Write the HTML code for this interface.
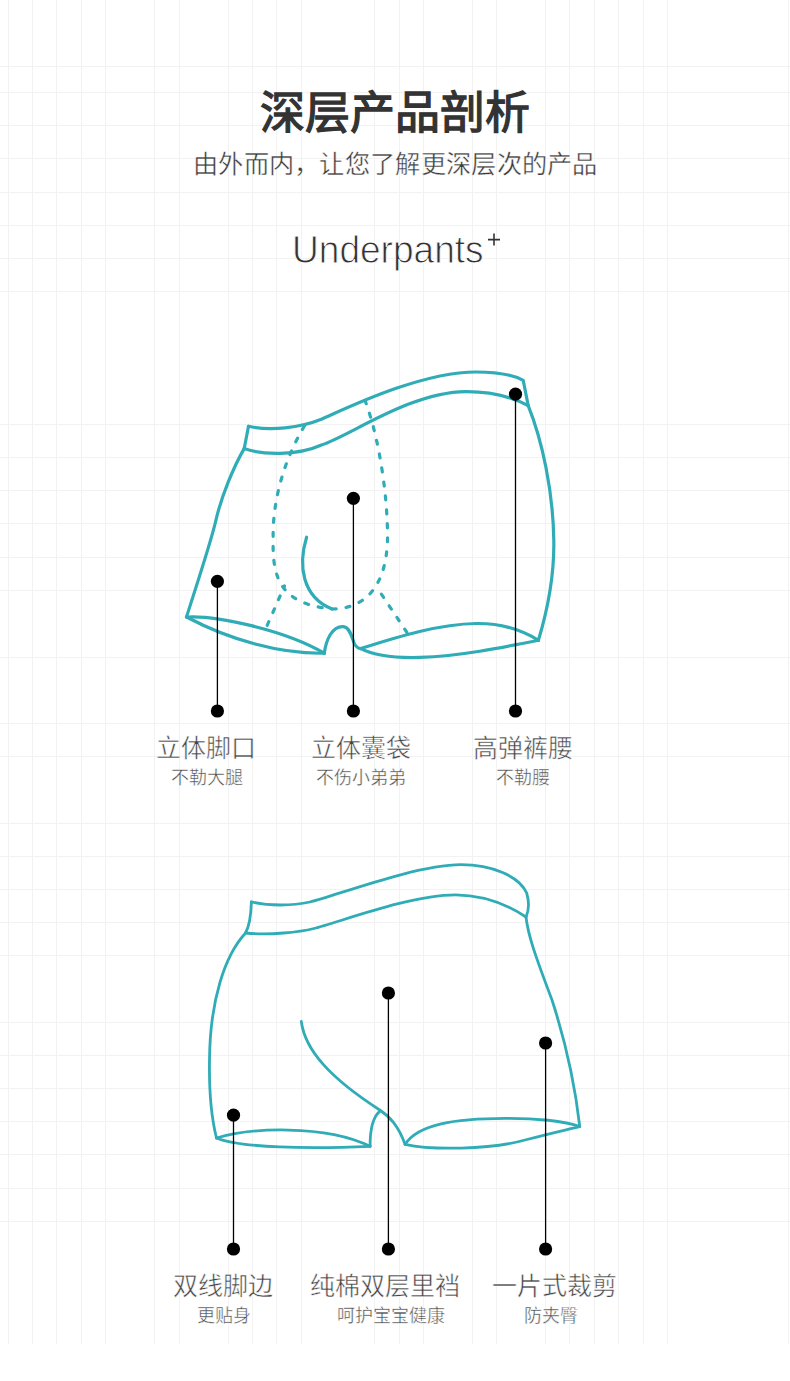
<!DOCTYPE html>
<html lang="zh-CN"><head><meta charset="utf-8">
<style>
html,body{margin:0;padding:0;background:#fff;}
body{width:790px;height:1381px;position:relative;overflow:hidden;font-family:"Liberation Sans",sans-serif;}
svg{position:absolute;left:0;top:0;}
.t{position:absolute;white-space:nowrap;line-height:1;}
.title{font-size:45px;font-weight:normal;color:#333;-webkit-text-stroke:1.3px #333;left:260px;top:91px;}
.sub{font-size:25.2px;letter-spacing:0.3px;color:#3a3a3a;-webkit-text-stroke:0.4px #fff;left:193px;top:152px;}
.en{font-size:39.4px;color:#333;left:292px;top:230.3px;transform:scaleX(0.941);transform-origin:0 0;-webkit-text-stroke:0.9px #fff;}

.lb{font-size:25px;color:#444;-webkit-text-stroke:0.5px #fff;}
.sl{font-size:18px;color:#4a4a4a;-webkit-text-stroke:0.4px #fff;}
</style></head><body>
<svg width="790" height="1381" viewBox="0 0 790 1381">
<g fill="#f2f2f2"><rect x="8" y="0" width="1" height="1344"/><rect x="32" y="0" width="1" height="1344"/><rect x="56" y="0" width="1" height="1344"/><rect x="81" y="0" width="1" height="1344"/><rect x="105" y="0" width="1" height="1344"/><rect x="154" y="0" width="1" height="1344"/><rect x="179" y="0" width="1" height="1344"/><rect x="228" y="0" width="1" height="1344"/><rect x="252" y="0" width="1" height="1344"/><rect x="276" y="0" width="1" height="1344"/><rect x="301" y="0" width="1" height="1344"/><rect x="374" y="0" width="1" height="1344"/><rect x="399" y="0" width="1" height="1344"/><rect x="423" y="0" width="1" height="1344"/><rect x="472" y="0" width="1" height="1344"/><rect x="496" y="0" width="1" height="1344"/><rect x="545" y="0" width="1" height="1344"/><rect x="569" y="0" width="1" height="1344"/><rect x="594" y="0" width="1" height="1344"/><rect x="618" y="0" width="1" height="1344"/><rect x="643" y="0" width="1" height="1344"/><rect x="667" y="0" width="1" height="1344"/><rect x="788" y="0" width="1" height="1344"/><rect x="0" y="66" width="790" height="1"/><rect x="0" y="92" width="790" height="1"/><rect x="0" y="125" width="790" height="1"/><rect x="0" y="158" width="790" height="1"/><rect x="0" y="192" width="790" height="1"/><rect x="0" y="225" width="790" height="1"/><rect x="0" y="258" width="790" height="1"/><rect x="0" y="291" width="790" height="1"/><rect x="0" y="424" width="790" height="1"/><rect x="0" y="457" width="790" height="1"/><rect x="0" y="490" width="790" height="1"/><rect x="0" y="523" width="790" height="1"/><rect x="0" y="557" width="790" height="1"/><rect x="0" y="590" width="790" height="1"/><rect x="0" y="657" width="790" height="1"/><rect x="0" y="723" width="790" height="1"/><rect x="0" y="756" width="790" height="1"/><rect x="0" y="823" width="790" height="1"/><rect x="0" y="856" width="790" height="1"/><rect x="0" y="889" width="790" height="1"/><rect x="0" y="922" width="790" height="1"/><rect x="0" y="955" width="790" height="1"/><rect x="0" y="1022" width="790" height="1"/><rect x="0" y="1055" width="790" height="1"/><rect x="0" y="1088" width="790" height="1"/><rect x="0" y="1121" width="790" height="1"/><rect x="0" y="1154" width="790" height="1"/><rect x="0" y="1188" width="790" height="1"/><rect x="0" y="1221" width="790" height="1"/></g>
<g fill="none" stroke="#30acb7" stroke-width="3.2" stroke-linecap="round" stroke-linejoin="round">
<path d="M248.5 426.3 C270 431 300 428 322 419 C345 409 420 372 476 372 C500 372 515 376 523.2 380.3 L528.2 405.6"/>
<path d="M248.5 426.3 L244.2 448.6"/>
<path d="M244.2 448.6 C262 455 297 456 321.5 445 C350 436 410 392 466 391.6 C490 391.5 510 396 528.2 405.6"/>
<path d="M244.2 448.6 C234 466 221 497 215.5 522 C210 545 195 590 186.5 617"/>
<path d="M528.2 405.6 C542 440 553 490 553.8 540 C554.5 580 546 615 538.4 640.3"/>
<path d="M186.5 617 C215 615 285 630 324.3 653.2"/>
<path d="M186.5 617 C230 640 280 654 324.3 653.2"/>
<path d="M324.3 653.2 C326 640 332 626 343.3 626.6 C350 627 352 638 354.5 644 C357 648 360 648.6 360.8 648.6"/>
<path d="M360.8 648.6 C400 636 440 624 476 623.5 C505 623 525 632 538.4 640.3"/>
<path d="M360.8 648.6 C375 656 400 658 420 657.4 C460 656 500 648 538.4 640.3"/>
<path d="M306.6 537.2 C298 565 302 597 332 609"/>
</g>
<g fill="none" stroke="#30acb7" stroke-width="3.2" stroke-linecap="round" stroke-dasharray="4 10">
<path d="M304.4 426 C285 458 272 500 273.2 540 C272 580 282 604 332 609 C362 609 386 590 387.5 540 C388 500 380 440 365 400.4"/>
<path d="M267.2 625.3 L284.5 586"/>
<path d="M406.9 632.4 L376.5 586.8"/>
</g>
<g fill="none" stroke="#30acb7" stroke-width="2.8" stroke-linecap="round" stroke-linejoin="round">
<path d="M251.4 901.9 C268 906 292 906 310 902 C335 896 415 865 460.8 864.7 C492 864.8 519 876 526.7 893 C529 901 529 910 526.2 916.5"/>
<path d="M251.4 901.9 C251 915 250 925 245.6 932.8"/>
<path d="M245.6 933 C270 935.5 300 932 314 928.5 C340 922 410 895 455.7 894.8 C480 895 505 903 526 917"/>
<path d="M245.6 933 C225 955 210 1000 209.5 1060 C209 1090 212 1120 216.5 1138"/>
<path d="M526 917 C528 935 535 955 552 1000 C565 1040 575 1085 579.7 1126"/>
<path d="M216.5 1138 C248 1128 325 1124 370.1 1146.3"/>
<path d="M216.5 1138 C240 1148 310 1149 370.1 1146.3"/>
<path d="M370.1 1146.3 C370 1130 372 1118 379.7 1111.4"/>
<path d="M301.3 1021.5 C305 1050 330 1078 379.7 1110 C390 1117 398 1125 405.1 1144.3"/>
<path d="M405.1 1144.3 C418 1124 455 1118.5 505 1118.3 C535 1118 565 1121 579.7 1126.6"/>
<path d="M405.1 1144.3 C430 1150 490 1150 525 1140 C545 1135 565 1130 579.7 1126.6"/>
</g>
<g stroke="#333" stroke-width="1.6" fill="none"><path d="M494 233.6 V245.6 M488 239.6 H500"/></g>
<g stroke="#000" stroke-width="1.3">
<line x1="217.4" y1="581.3" x2="217.4" y2="711"/>
<line x1="353.4" y1="498.3" x2="353.4" y2="711"/>
<line x1="515.5" y1="394.2" x2="515.5" y2="711"/>
<line x1="233.5" y1="1115.2" x2="233.5" y2="1249"/>
<line x1="388.4" y1="993" x2="388.4" y2="1249"/>
<line x1="545.6" y1="1043" x2="545.6" y2="1249"/>
</g>
<g fill="#000">
<circle cx="217.4" cy="581.3" r="6.6"/><circle cx="353.4" cy="498.3" r="6.6"/><circle cx="515.5" cy="394.2" r="6.6"/>
<circle cx="217.4" cy="711" r="6.6"/><circle cx="353.4" cy="711" r="6.6"/><circle cx="515.5" cy="711" r="6.6"/>
<circle cx="233.5" cy="1115.2" r="6.6"/><circle cx="388.4" cy="993" r="6.6"/><circle cx="545.6" cy="1043" r="6.6"/>
<circle cx="233.5" cy="1249" r="6.6"/><circle cx="388.4" cy="1249" r="6.6"/><circle cx="545.6" cy="1249" r="6.6"/>
</g>
</svg>
<div class="t title">深层产品剖析</div>
<div class="t sub">由外而内，让您了解更深层次的产品</div>
<div class="t en">Underpants</div>

<div class="t lb" id="l1" style="left:156px;top:736px">立体脚口</div>
<div class="t sl" id="s1" style="left:171px;top:769px">不勒大腿</div>
<div class="t lb" id="l2" style="left:311px;top:736px">立体囊袋</div>
<div class="t sl" id="s2" style="left:316px;top:769px">不伤小弟弟</div>
<div class="t lb" id="l3" style="left:473px;top:736px">高弹裤腰</div>
<div class="t sl" id="s3" style="left:496px;top:769px">不勒腰</div>
<div class="t lb" id="l4" style="left:173px;top:1274px">双线脚边</div>
<div class="t sl" id="s4" style="left:197px;top:1307px">更贴身</div>
<div class="t lb" id="l5" style="left:310px;top:1274px">纯棉双层里裆</div>
<div class="t sl" id="s5" style="left:337px;top:1307px">呵护宝宝健康</div>
<div class="t lb" id="l6" style="left:492px;top:1274px">一片式裁剪</div>
<div class="t sl" id="s6" style="left:524px;top:1307px">防夹臀</div>
</body></html>
